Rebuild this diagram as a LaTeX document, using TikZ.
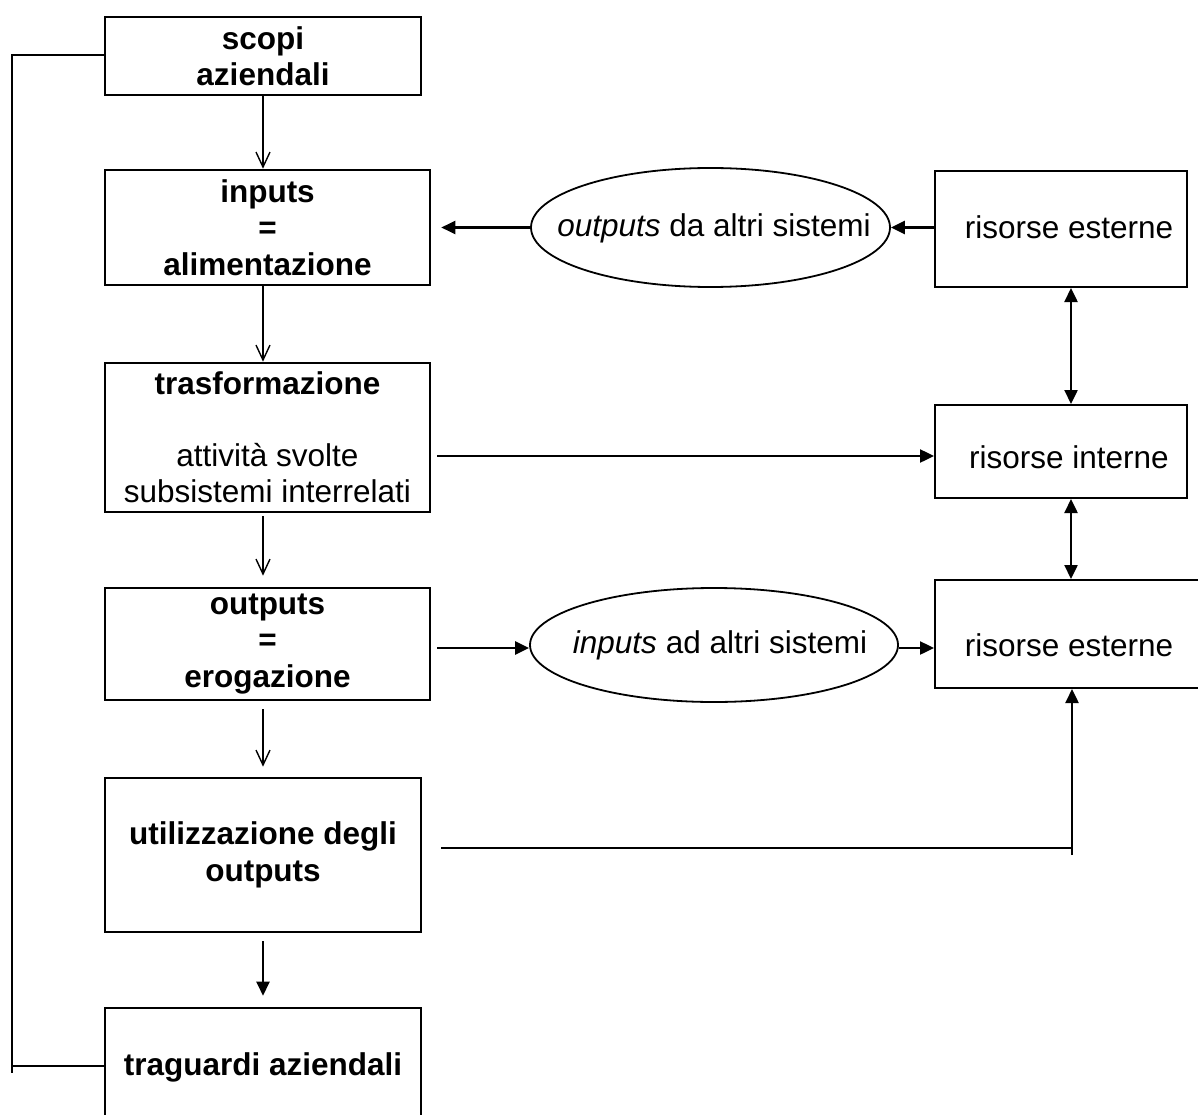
\documentclass[tikz,border=0pt]{standalone}
\usepackage{fontspec}
\setmainfont{Liberation Sans}
\usetikzlibrary{arrows.meta,shapes.geometric,calc}
\begin{document}
\begin{tikzpicture}[x=1pt,y=-1pt,
  txt/.style={inner sep=0pt,align=center,font=\fontsize{31.5}{36.5}\selectfont},
  box/.style={draw,line width=2.6pt,inner sep=0pt,align=center,
              font=\fontsize{31.5}{36.5}\selectfont\bfseries},
  rbox/.style={draw,line width=2pt,inner sep=0pt},
  oval/.style={draw,ellipse,line width=1.8pt,inner sep=0pt},
  varr/.style={line width=1.4pt,-{Straight Barb[length=15pt,width=14pt]}},
  harr/.style={line width=2.4pt,-{Triangle[length=14pt,width=13pt]}},
  darr/.style={line width=2.4pt,{Triangle[length=14pt,width=13pt]}-{Triangle[length=14pt,width=13pt]}},
  link/.style={line width=2.4pt}]
\clip (0,0) rectangle (1198,1115);

% main chain of the system
\node[box,minimum width=316pt,minimum height=78pt]  (scopi)  at (263,56)    {scopi\\aziendali};
\node[box,minimum width=325pt,minimum height=115pt] (inputs) at (267.5,227.5) {inputs\\=\\alimentazione};
\node[box,minimum width=325pt,minimum height=149pt] (trasf)  at (267.5,437.5)
  {trasformazione\\[35pt]\mdseries attività svolte\\\mdseries subsistemi interrelati};
\node[box,minimum width=325pt,minimum height=112pt] (outputs) at (267.5,644) {outputs\\=\\erogazione};
\node[box,minimum width=316pt,minimum height=154pt] (util)   at (263,855)   {utilizzazione degli\\outputs};
\node[box,minimum width=316pt,minimum height=118pt] (trag)   at (263,1067)  {traguardi aziendali};

% resources on the right
\node[rbox,minimum width=252pt,minimum height=116pt] (ext1) at (1061,229) {};
\node[txt] (ext1t) at (1069,227) {risorse esterne};
\node[rbox,minimum width=252pt,minimum height=93pt]  (int)  at (1061,451.5) {};
\node[txt] (intt) at (1069,457) {risorse interne};
\node[rbox,minimum width=272pt,minimum height=108pt] (ext2) at (1071,634) {};
\node[txt] (ext2t) at (1069,645) {risorse esterne};

% exchanges with other systems
\node[oval,minimum width=359pt,minimum height=119pt] (ell1) at (710.5,227.5) {};
\node[txt] (ell1t) at (714,228) {\textit{outputs} da altri sistemi};
\node[oval,minimum width=368pt,minimum height=114pt] (ell2) at (714,645) {};
\node[txt] (ell2t) at (720,645) {\textit{inputs} ad altri sistemi};

% vertical flow
\draw[varr] (scopi.south) -- (scopi.south |- inputs.north);
\draw[varr] (scopi.south |- inputs.south) -- (scopi.south |- trasf.north);
\draw[varr] ($(scopi.south |- trasf.south)+(0,3)$) -- ($(scopi.south |- outputs.north)+(0,-11)$);
\draw[varr] ($(scopi.south |- outputs.south)+(0,8)$) -- ($(scopi.south |- util.north)+(0,-10)$);
\draw[harr] ($(scopi.south |- util.south)+(0,8)$) -- ($(scopi.south |- trag.north)+(0,-11)$);

% feedback from goals to aims
\coordinate (fbtop) at (12,55);
\coordinate (fbbot) at (12,1066);
\draw[link] (scopi.west |- fbtop) -- (fbtop) -- ($(fbbot)+(0,7)$);
\draw[link] (fbbot) -- ($(trag.west |- fbbot)+(2,0)$);

% horizontal exchanges
\draw[harr] (ell1.west) -- ($(inputs.east)+(10,0)$);
\draw[harr] (ext1.west |- ell1.east) -- (ell1.east);
\coordinate (trout) at (437,456);
\draw[harr] (trout) -- (int.west |- trout);
\coordinate (outout) at (437,648);
\draw[harr] (outout) -- (ell2.west |- outout);
\draw[harr] (ell2.east |- outout) -- (ext2.west |- outout);

% links between resources
\draw[darr] ($(ext1.south)+(10,0)$) -- ($(int.north)+(10,0)$);
\draw[darr] ($(int.south)+(10,0)$) -- (ext2.north);

% use of outputs back to external resources
\coordinate (ucorner) at (1072,848);
\draw[link] ($(util.east |- ucorner)+(19,0)$) -- (ucorner);
\draw[harr] ($(ucorner)+(0,7)$) -- (ext2.south -| ucorner);
\end{tikzpicture}
\end{document}
